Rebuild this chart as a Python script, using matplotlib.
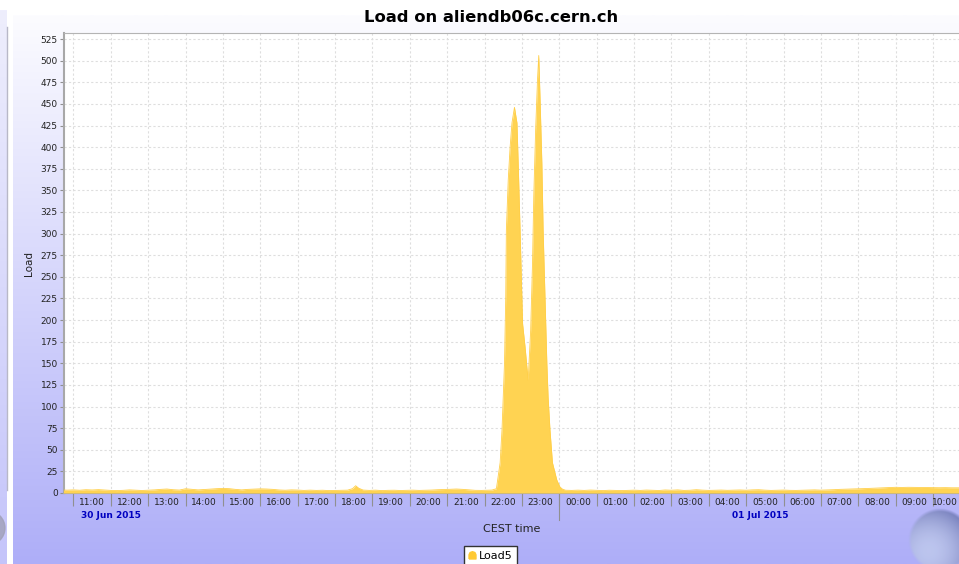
import numpy as np
import pandas as pd
import matplotlib
matplotlib.use("Agg")
import matplotlib.pyplot as plt
import matplotlib.dates as mdates
from matplotlib.ticker import FuncFormatter, NullFormatter
from matplotlib.lines import Line2D
from matplotlib.path import Path
from matplotlib.patches import Circle

# Load5 samples (times in CEST)
times = [
    "2015-06-30 10:40", "2015-06-30 10:50", "2015-06-30 11:00", "2015-06-30 11:10",
    "2015-06-30 11:20", "2015-06-30 11:30", "2015-06-30 11:40", "2015-06-30 11:50",
    "2015-06-30 12:00", "2015-06-30 12:10", "2015-06-30 12:20", "2015-06-30 12:30",
    "2015-06-30 12:40", "2015-06-30 12:50", "2015-06-30 13:00", "2015-06-30 13:10",
    "2015-06-30 13:20", "2015-06-30 13:30", "2015-06-30 13:40", "2015-06-30 13:50",
    "2015-06-30 14:00", "2015-06-30 14:10", "2015-06-30 14:20", "2015-06-30 14:30",
    "2015-06-30 14:40", "2015-06-30 14:50", "2015-06-30 15:00", "2015-06-30 15:10",
    "2015-06-30 15:20", "2015-06-30 15:30", "2015-06-30 15:40", "2015-06-30 15:50",
    "2015-06-30 16:00", "2015-06-30 16:10", "2015-06-30 16:20", "2015-06-30 16:30",
    "2015-06-30 16:40", "2015-06-30 16:50", "2015-06-30 17:00", "2015-06-30 17:10",
    "2015-06-30 17:20", "2015-06-30 17:30", "2015-06-30 17:40", "2015-06-30 17:50",
    "2015-06-30 18:00", "2015-06-30 18:10", "2015-06-30 18:20", "2015-06-30 18:28",
    "2015-06-30 18:33", "2015-06-30 18:38", "2015-06-30 18:45", "2015-06-30 18:55",
    "2015-06-30 19:05", "2015-06-30 19:15", "2015-06-30 19:25", "2015-06-30 19:35",
    "2015-06-30 19:45", "2015-06-30 19:55", "2015-06-30 20:05", "2015-06-30 20:15",
    "2015-06-30 20:25", "2015-06-30 20:35", "2015-06-30 20:45", "2015-06-30 20:55",
    "2015-06-30 21:05", "2015-06-30 21:15", "2015-06-30 21:25", "2015-06-30 21:35",
    "2015-06-30 21:45", "2015-06-30 21:55", "2015-06-30 22:05", "2015-06-30 22:12",
    "2015-06-30 22:19", "2015-06-30 22:25", "2015-06-30 22:28", "2015-06-30 22:30",
    "2015-06-30 22:32", "2015-06-30 22:34", "2015-06-30 22:35", "2015-06-30 22:38",
    "2015-06-30 22:41", "2015-06-30 22:44", "2015-06-30 22:48", "2015-06-30 22:52",
    "2015-06-30 22:54", "2015-06-30 22:57", "2015-06-30 23:01", "2015-06-30 23:05",
    "2015-06-30 23:10", "2015-06-30 23:14", "2015-06-30 23:17", "2015-06-30 23:19",
    "2015-06-30 23:22", "2015-06-30 23:25", "2015-06-30 23:27", "2015-06-30 23:29",
    "2015-06-30 23:32", "2015-06-30 23:34", "2015-06-30 23:37", "2015-06-30 23:40",
    "2015-06-30 23:42", "2015-06-30 23:45", "2015-06-30 23:49", "2015-06-30 23:56",
    "2015-07-01 00:01", "2015-07-01 00:05", "2015-07-01 00:10", "2015-07-01 00:20",
    "2015-07-01 00:30", "2015-07-01 00:40", "2015-07-01 00:50", "2015-07-01 01:00",
    "2015-07-01 01:10", "2015-07-01 01:20", "2015-07-01 01:30", "2015-07-01 01:40",
    "2015-07-01 01:50", "2015-07-01 02:00", "2015-07-01 02:10", "2015-07-01 02:20",
    "2015-07-01 02:30", "2015-07-01 02:40", "2015-07-01 02:50", "2015-07-01 03:00",
    "2015-07-01 03:10", "2015-07-01 03:20", "2015-07-01 03:30", "2015-07-01 03:40",
    "2015-07-01 03:50", "2015-07-01 04:00", "2015-07-01 04:10", "2015-07-01 04:20",
    "2015-07-01 04:30", "2015-07-01 04:40", "2015-07-01 04:50", "2015-07-01 05:00",
    "2015-07-01 05:10", "2015-07-01 05:20", "2015-07-01 05:30", "2015-07-01 05:40",
    "2015-07-01 05:50", "2015-07-01 06:00", "2015-07-01 06:10", "2015-07-01 06:20",
    "2015-07-01 06:30", "2015-07-01 06:40", "2015-07-01 06:50", "2015-07-01 07:00",
    "2015-07-01 07:10", "2015-07-01 07:20", "2015-07-01 07:30", "2015-07-01 07:40",
    "2015-07-01 07:50", "2015-07-01 08:00", "2015-07-01 08:10", "2015-07-01 08:20",
    "2015-07-01 08:30", "2015-07-01 08:40", "2015-07-01 08:50", "2015-07-01 09:00",
    "2015-07-01 09:10", "2015-07-01 09:20", "2015-07-01 09:30", "2015-07-01 09:40",
    "2015-07-01 09:50", "2015-07-01 10:00", "2015-07-01 10:10", "2015-07-01 10:20",
    "2015-07-01 10:30", "2015-07-01 10:45",
]
load5 = [
    3.5, 3.3, 3.6, 3.2, 3.8, 3.5, 3.9, 3.4,
    3.0, 2.8, 3.1, 3.6, 3.3, 2.9, 3.2, 3.6,
    4.2, 4.6, 3.8, 3.4, 4.9, 4.2, 3.6, 4.0,
    4.5, 5.0, 5.3, 5.0, 4.2, 3.6, 4.2, 4.5,
    4.8, 4.6, 4.2, 3.5, 3.2, 3.6, 3.4, 3.0,
    3.3, 3.0, 3.2, 2.8, 3.0, 3.1, 3.3, 5.0,
    8.4, 5.5, 3.4, 3.0, 3.3, 2.8, 3.1, 3.2,
    2.9, 3.1, 3.3, 3.0, 3.2, 3.4, 3.8, 4.0,
    4.3, 4.6, 4.2, 3.6, 3.1, 3.0, 3.2, 3.4,
    5.0, 35, 73, 111, 150, 227, 304, 362,
    400, 428, 446, 428, 381, 304, 196, 169,
    130, 188, 266, 343, 420, 478, 506, 458,
    381, 304, 227, 150, 111, 73, 35, 15,
    7.0, 4.5, 3.2, 3.0, 3.3, 3.0, 3.4, 3.1,
    2.8, 3.2, 3.0, 2.8, 3.1, 3.3, 3.0, 3.4,
    3.2, 2.9, 3.5, 3.2, 3.6, 3.0, 3.2, 3.8,
    3.3, 3.0, 3.2, 3.4, 3.1, 3.3, 3.5, 3.2,
    3.6, 3.8, 3.3, 3.0, 3.2, 3.4, 3.1, 3.0,
    3.2, 3.4, 3.6, 3.3, 3.5, 3.8, 4.2, 4.4,
    4.6, 4.8, 5.1, 5.4, 5.6, 6.0, 6.4, 6.6,
    6.4, 6.6, 6.5, 6.3, 6.4, 6.2, 6.1, 6.2,
    6.0, 6.0,
]

x_start = "2015-06-30 10:44:45"
x_end = "2015-07-01 10:41:45"
y_ticks = list(range(0, 526, 25))
day_labels = ["30 Jun 2015", "01 Jul 2015"]
day_label_at = ["2015-06-30 12:00", "2015-07-01 05:22"]
midnight = "2015-07-01 00:00"
last_hour = "2015-07-01 10:00"   # this label is squeezed against the right edge

W, H = 959, 564
fig = plt.figure(figsize=(W / 100, H / 100), dpi=100, facecolor="white")

# background: MonALISA style lavender gradient panels
bg = fig.add_axes([0, 0, 1, 1], zorder=-10)
bg.set_xlim(0, W)
bg.set_ylim(H, 0)
bg.axis("off")
top_c = np.array([252, 252, 255]) / 255
bot_c = np.array([174, 174, 248]) / 255
t = np.linspace(0, 1, 256)[:, None]
grad = (top_c[None, :] * (1 - t) + bot_c[None, :] * t)[:, None, :]
bg.imshow(grad, extent=(13, W, H, 15), aspect="auto", interpolation="bilinear")
side = (np.array([238, 238, 253]) / 255 * (1 - t) + np.array([196, 196, 250]) / 255 * t)[:, None, :]
bg.imshow(side, extent=(0, 7, H, 10), aspect="auto", interpolation="bilinear")
bg.plot([7, 7], [27, 490], color="#b8b8c8", lw=1)
bg.add_patch(Circle((-12, 528), 17, color="#a0a0b8", alpha=0.8))

# main plot
ax = fig.add_axes([64 / W, (H - 493) / H, (W - 64) / W, 460 / H])
ax.set_facecolor("white")
tt = pd.to_datetime(times)
ax.fill_between(tt, load5, 0, color="#ffd352", lw=0, zorder=3)
ax.plot(tt, load5, color="#ffcf48", lw=0.6, zorder=3)

ax.set_xlim(pd.Timestamp(x_start), pd.Timestamp(x_end))
ax.set_ylim(0, 532)
ax.set_yticks(y_ticks)

last_num = mdates.date2num(pd.Timestamp(last_hour))


def hour_label(v, pos):
    start = v - 0.5 / 24
    if abs(start - last_num) < 1e-6:
        return ""
    return mdates.num2date(start).strftime("%H:%M")


ax.xaxis.set_major_locator(mdates.HourLocator())
ax.xaxis.set_major_formatter(NullFormatter())
ax.xaxis.set_minor_locator(mdates.MinuteLocator(byminute=[30]))
ax.xaxis.set_minor_formatter(FuncFormatter(hour_label))

ax.grid(True, which="major", color="#dedede", linestyle=(0, (2, 2)), lw=0.8, zorder=1)
ax.tick_params(axis="x", which="major", length=9.5, width=0.8, color="#909090", direction="out")
ax.tick_params(axis="x", which="minor", length=0, pad=3.5, labelsize=6.5, labelcolor="#222222")
ax.tick_params(axis="y", length=3, width=0.8, color="#909090", pad=1.5, labelsize=6.5,
               labelcolor="#222222")

# the last period label is pushed inside the visible area, as in the original
ax.annotate(pd.Timestamp(last_hour).strftime("%H:%M"), xy=(1, 0), xycoords="axes fraction",
            xytext=(-0.5, -3.5), textcoords="offset points", ha="right", va="top",
            fontsize=6.5, color="#222222", annotation_clip=False)

ax.spines["left"].set_color("#a8a8a8")
ax.spines["left"].set_linewidth(1.5)
ax.spines["top"].set_color("#b4b4b4")
ax.spines["bottom"].set_color("#a0a0a0")
ax.spines["right"].set_visible(False)

# longer tick at the day boundary and the date labels
xtr = ax.get_xaxis_transform()
m = pd.Timestamp(midnight)
ax.plot([m, m], [0, -0.059], transform=xtr, clip_on=False, color="#909090", lw=0.8)
for lab, when in zip(day_labels, day_label_at):
    ax.text(pd.Timestamp(when), -0.048, lab, transform=xtr, ha="center", va="center",
            fontsize=6.5, fontweight="bold", color="#0000c0")

ax.set_xlabel("CEST time", fontsize=8, color="#222222")
ax.xaxis.set_label_coords(0.5, -0.067)
ax.set_ylabel("Load", fontsize=7.5, color="#222222")
ax.yaxis.set_label_coords(-0.033, 0.5)

fig.text(491 / W, 1 - 18 / H, "Load on aliendb06c.cern.ch", ha="center", va="center",
         fontsize=11.8, fontweight="bold", color="black")

# legend with the bullet shaped swatch
bullet = Path([(-1, -1), (1, -1), (1, 0.2), (0.7, 0.85), (0, 1.1), (-0.7, 0.85), (-1, 0.2), (-1, -1)])
handle = Line2D([], [], linestyle="none", marker=bullet, markersize=5.5,
                markerfacecolor="#ffc933", markeredgecolor="#ffc933")
fig.legend([handle], ["Load5"], loc="upper center", bbox_to_anchor=(490.5 / W, 1 - 546 / H),
           fontsize=8, frameon=True, fancybox=False, edgecolor="#333333", framealpha=1,
           handlelength=0.6, handletextpad=0.3, borderpad=0.45, borderaxespad=0)

# globe decoration in the corner
gx = fig.add_axes([908 / W, (H - 572) / H, 64 / W, 64 / H])
gx.axis("off")
yy, xx = np.mgrid[-1:1:128j, -1:1:128j]
r = np.sqrt(xx ** 2 + yy ** 2)
shade = np.clip(1 - ((xx + 0.35) ** 2 + (yy - 0.35) ** 2) * 0.45, 0, 1)
img = np.zeros((128, 128, 4))
img[..., 0] = 0.40 + 0.35 * shade
img[..., 1] = 0.44 + 0.35 * shade
img[..., 2] = 0.68 + 0.25 * shade
img[..., 3] = np.clip((1 - r) * 8, 0, 0.85)
gx.imshow(img, extent=(-1, 1, -1, 1), origin="upper")

fig.savefig("out.png", dpi=100, facecolor=fig.get_facecolor())
